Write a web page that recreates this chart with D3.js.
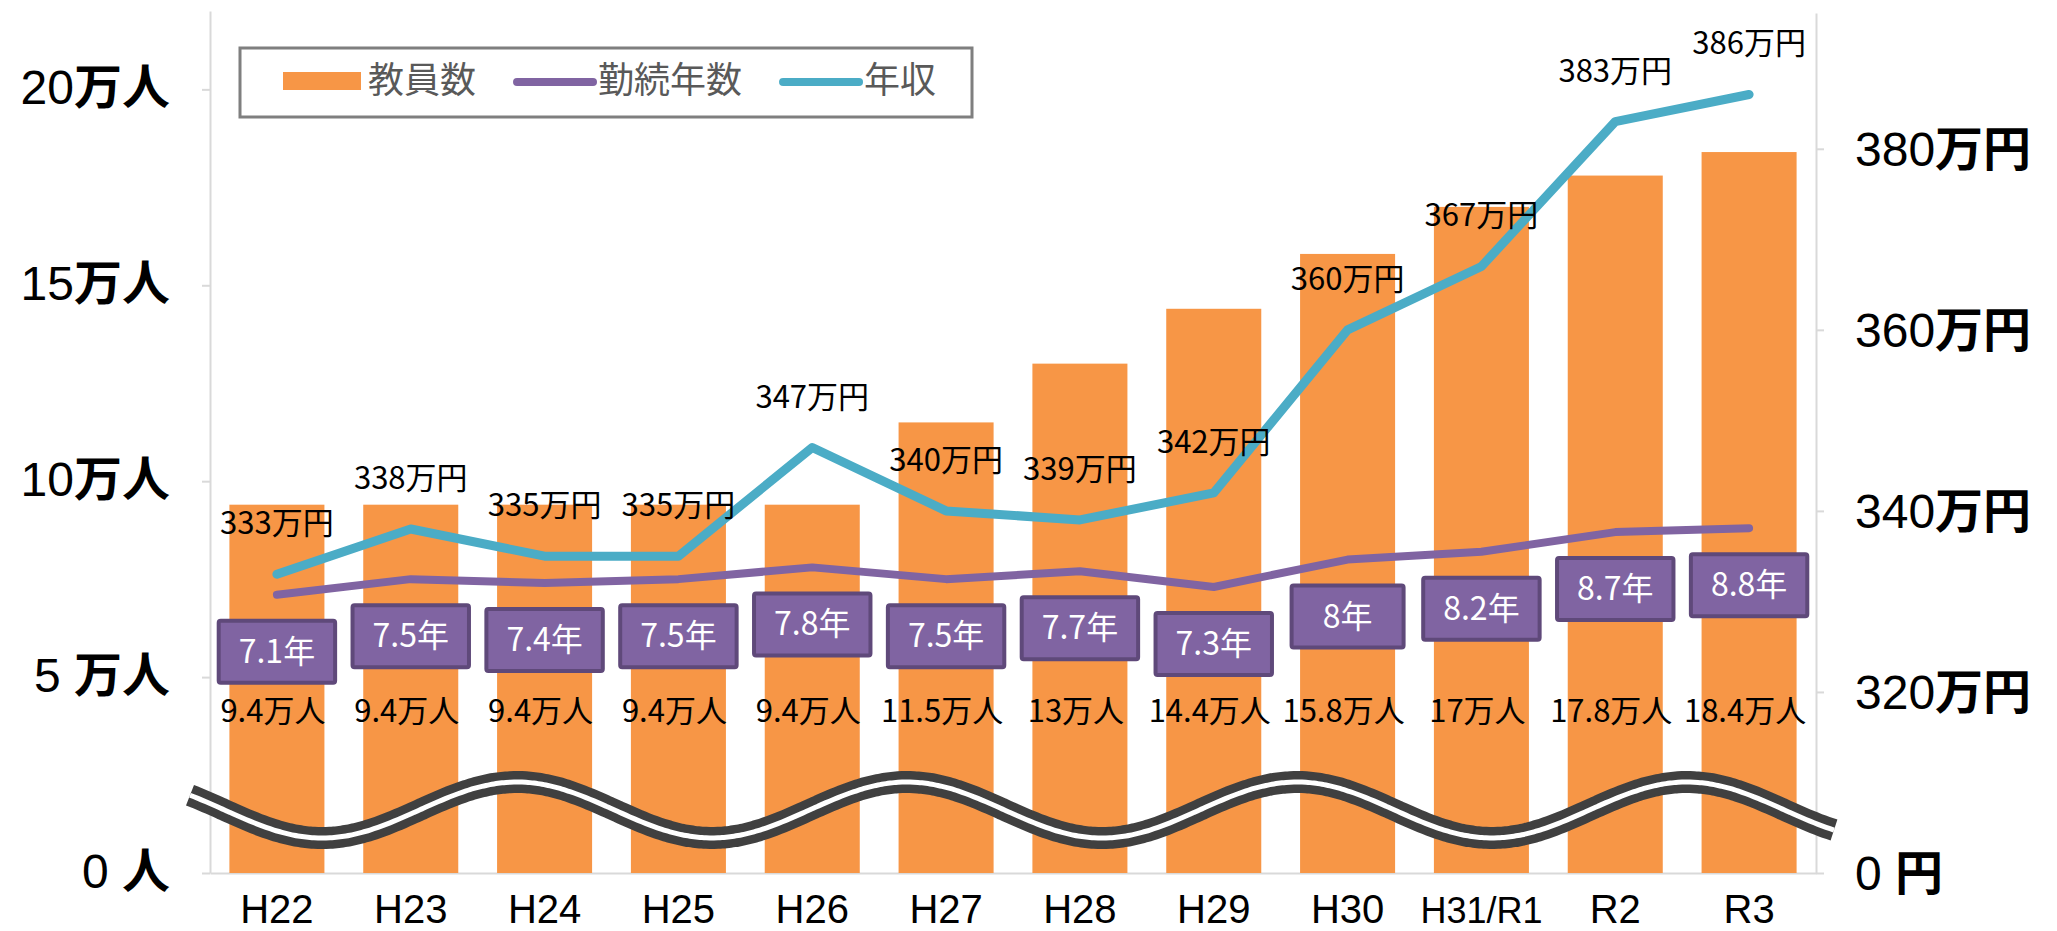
<!DOCTYPE html>
<html>
<head>
<meta charset="utf-8">
<script src="https://cdn.jsdelivr.net/npm/d3@7"></script>
<style>
  body { margin: 0; background: #fff; }
  svg { display: block; }
  text { white-space: pre; }
</style>
</head>
<body>
<div id="chart"></div>
<script>
// data
const categories = ["H22", "H23", "H24", "H25", "H26", "H27", "H28", "H29", "H30", "H31/R1", "R2", "R3"];
const teachers = [9.4, 9.4, 9.4, 9.4, 9.4, 11.5, 13, 14.4, 15.8, 17, 17.8, 18.4];   // 万人
const tenure = [7.1, 7.5, 7.4, 7.5, 7.8, 7.5, 7.7, 7.3, 8, 8.2, 8.7, 8.8];          // 年
const income = [333, 338, 335, 335, 347, 340, 339, 342, 360, 367, 383, 386];        // 万円
const leftTicks = [0, 5, 10, 15, 20];
const leftTickLabels = ["0 人", "5 万人", "10万人", "15万人", "20万人"];
const rightTicks = [300, 320, 340, 360, 380];
const rightTickLabels = ["0 円", "320万円", "340万円", "360万円", "380万円"];
const legendItems = ["教員数", "勤続年数", "年収"];

function init() {
    const width = 2057;
    const height = 931;
    const plot = { left: 210, right: 1816, top: 11, bottom: 873 };

    const orange = "#f79646";
    const purple = "#8064a2";
    const blue = "#4bacc6";
    const jp = "'Noto Sans CJK JP', sans-serif";
    const latin = "'Liberation Sans', Arial, sans-serif";

    const x = d3.scaleBand()
        .domain(categories)
        .range([plot.left, plot.right])
        .paddingInner(0.29)
        .paddingOuter(0.145);
    const yLeft = d3.scaleLinear().domain([0, 22]).range([plot.bottom, plot.top]);
    const yRight = d3.scaleLinear().domain([300, 395]).range([plot.bottom, 13]);
    const cx = c => x(c) + x.bandwidth() / 2;

    const svg = d3.select("#chart")
        .append("svg")
        .attr("width", width)
        .attr("height", height);

    // axes
    const styleAxis = g => {
        g.selectAll("path, line").attr("stroke", "#d9d9d9").attr("stroke-width", 2);
        g.selectAll("text").remove();
    };

    svg.append("g")
        .attr("transform", `translate(${plot.left},0)`)
        .call(d3.axisLeft(yLeft).tickValues(leftTicks).tickSize(8).tickSizeOuter(0))
        .call(styleAxis);

    svg.append("g")
        .attr("transform", `translate(${plot.right},0)`)
        .call(d3.axisRight(yRight).tickValues(rightTicks).tickSize(8).tickSizeOuter(0))
        .call(styleAxis);

    svg.append("g")
        .attr("transform", `translate(0,${plot.bottom})`)
        .call(d3.axisBottom(x).tickSize(0).tickSizeOuter(0))
        .call(g => g.select(".domain").attr("stroke", "#d9d9d9").attr("stroke-width", 2))
        .call(g => g.selectAll("text")
            .attr("y", 50)
            .attr("dy", 0)
            .attr("fill", "#000")
            .attr("font-family", latin)
            .attr("font-size", d => d.length > 4 ? 36 : 40));

    // axis labels: digits regular, Japanese bold
    function axisLabel(sel, label) {
        const m = label.match(/^([\d\s]+)(.*)$/);
        sel.append("tspan").attr("font-family", latin).attr("font-weight", "normal").text(m[1]);
        sel.append("tspan").attr("font-family", jp).attr("font-weight", "bold").text(m[2]);
    }

    leftTicks.forEach((t, i) => {
        svg.append("text")
            .attr("x", 170)
            .attr("y", yLeft(t) + 15)
            .attr("text-anchor", "end")
            .attr("font-size", 48)
            .call(axisLabel, leftTickLabels[i]);
    });

    rightTicks.forEach((t, i) => {
        svg.append("text")
            .attr("x", 1855)
            .attr("y", yRight(t) + 17)
            .attr("font-size", 48)
            .call(axisLabel, rightTickLabels[i]);
    });

    // bars
    svg.append("g")
        .selectAll("rect")
        .data(teachers)
        .join("rect")
        .attr("x", (d, i) => x(categories[i]))
        .attr("y", d => yLeft(d))
        .attr("width", x.bandwidth())
        .attr("height", d => yLeft(0) - yLeft(d))
        .attr("fill", orange);

    // axis break wave
    const wave = d3.range(190, 1838, 4).map(px => [px, 810 + 28 * Math.cos(2 * Math.PI * (px - 322) / 390)]);
    const waveLine = d3.line().curve(d3.curveBasis);
    svg.append("path")
        .attr("d", waveLine(wave))
        .attr("fill", "none")
        .attr("stroke", "#404040")
        .attr("stroke-width", 22);
    svg.append("path")
        .attr("d", waveLine(wave))
        .attr("fill", "none")
        .attr("stroke", "#fff")
        .attr("stroke-width", 5);

    // lines
    const tenureLine = d3.line()
        .x((d, i) => cx(categories[i]))
        .y(d => yLeft(d));
    const incomeLine = d3.line()
        .x((d, i) => cx(categories[i]))
        .y(d => yRight(d));

    svg.append("path")
        .attr("d", tenureLine(tenure))
        .attr("fill", "none")
        .attr("stroke", purple)
        .attr("stroke-width", 8)
        .attr("stroke-linecap", "round")
        .attr("stroke-linejoin", "round");

    svg.append("path")
        .attr("d", incomeLine(income))
        .attr("fill", "none")
        .attr("stroke", blue)
        .attr("stroke-width", 9)
        .attr("stroke-linecap", "round")
        .attr("stroke-linejoin", "round");

    // bar labels
    svg.append("g")
        .selectAll("text")
        .data(teachers)
        .join("text")
        .attr("x", (d, i) => cx(categories[i]) - 4)
        .attr("y", 722)
        .attr("text-anchor", "middle")
        .attr("font-family", jp)
        .attr("font-size", 31)
        .attr("fill", "#000")
        .text(d => `${d}万人`);

    // income labels
    svg.append("g")
        .selectAll("text")
        .data(income)
        .join("text")
        .attr("x", (d, i) => cx(categories[i]))
        .attr("y", d => yRight(d) - 40)
        .attr("text-anchor", "middle")
        .attr("font-family", jp)
        .attr("font-size", 31)
        .attr("fill", "#000")
        .text(d => `${d}万円`);

    // tenure labels in boxes
    const boxes = svg.append("g")
        .selectAll("g")
        .data(tenure)
        .join("g")
        .attr("transform", (d, i) => `translate(${cx(categories[i])},${yLeft(d) + 26})`);

    boxes.append("text")
        .attr("y", 42)
        .attr("text-anchor", "middle")
        .attr("font-family", jp)
        .attr("font-size", 32)
        .attr("fill", "#fff")
        .text(d => `${d}年`)
        .each(function () {
            const w = Math.max(this.getComputedTextLength() + 40, 112);
            d3.select(this.parentNode).insert("rect", "text")
                .attr("x", -w / 2)
                .attr("y", 0)
                .attr("width", w)
                .attr("height", 62)
                .attr("rx", 2)
                .attr("fill", purple)
                .attr("stroke", "#5f497a")
                .attr("stroke-width", 4);
        });

    // legend
    const legend = svg.append("g");
    legend.append("rect")
        .attr("x", 240)
        .attr("y", 48)
        .attr("width", 732)
        .attr("height", 69)
        .attr("fill", "#fff")
        .attr("stroke", "#7f7f7f")
        .attr("stroke-width", 3);

    const colors = [orange, purple, blue];
    let lx = 283;
    legendItems.forEach((name, i) => {
        if (i === 0) {
            legend.append("rect")
                .attr("x", lx).attr("y", 72)
                .attr("width", 78).attr("height", 18)
                .attr("fill", colors[i]);
        } else {
            legend.append("line")
                .attr("x1", lx + 4).attr("x2", lx + 80)
                .attr("y1", 82).attr("y2", 82)
                .attr("stroke", colors[i])
                .attr("stroke-width", 8)
                .attr("stroke-linecap", "round");
        }
        const t = legend.append("text")
            .attr("x", lx + 85)
            .attr("y", 93)
            .attr("font-family", jp)
            .attr("font-size", 36)
            .attr("fill", "#595959")
            .text(name);
        lx += 85 + t.node().getComputedTextLength() + 37;
    });
}

window.onload = init;
</script>
</body>
</html>
